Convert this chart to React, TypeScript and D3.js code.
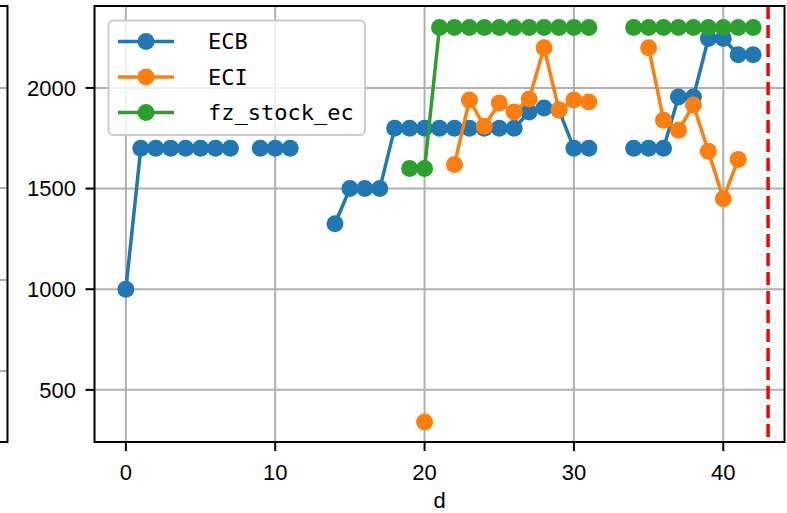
import React from "react";
import * as d3 from "d3";

const days: number[] = d3.range(0, 43);
const ecb: (number | null)[] = [
  1000, 1700, 1700, 1700, 1700, 1700, 1700, 1700, null, 1700,
  1700, 1700, null, null, 1325, 1500, 1500, 1500, 1800, 1800,
  1800, 1800, 1800, 1800, 1800, 1800, 1800, 1880, 1900, 1890,
  1700, 1700, null, null, 1700, 1700, 1700, 1955, 1955, 2245,
  2245, 2165, 2165,
];
const eci: (number | null)[] = [
  null, null, null, null, null, null, null, null, null, null,
  null, null, null, null, null, null, null, null, null, null,
  340, null, 1620, 1940, 1810, 1925, 1880, 1945, 2200, 1890,
  1940, 1930, null, null, null, 2200, 1840, 1790, 1915, 1685,
  1450, 1645, null,
];
const fz: (number | null)[] = [
  null, null, null, null, null, null, null, null, null, null,
  null, null, null, null, null, null, null, null, null, 1600,
  1600, 2300, 2300, 2300, 2300, 2300, 2300, 2300, 2300, 2300,
  2300, 2300, null, null, 2300, 2300, 2300, 2300, 2300, 2300,
  2300, 2300, 2300,
];
const seriesNames = ["ECB", "ECI", "fz_stock_ec"];
const seriesColors = ["#1f77b4", "#ff7f0e", "#2ca02c"];
const xTicks = [0, 10, 20, 30, 40];
const yTicks = [500, 1000, 1500, 2000];
const cutoffDay = 43;
const xLabel = "d";

const W = 787;
const H = 513;
const L = 94.5, R = 784.5, T = 6, B = 442;

export default function App() {
  const x = d3.scaleLinear().domain([-2.1, 44.1]).range([L, R]);
  const y = d3.scaleLinear().domain([241, 2407]).range([B, T]);
  const all = [ecb, eci, fz];
  const line = d3
    .line<number | null>()
    .defined((d) => d !== null)
    .x((_, i) => x(days[i]))
    .y((d) => y(d as number));
  const tickFont = "'Liberation Sans', Arial, sans-serif";
  const legFont = "'DejaVu Sans Mono', monospace";
  return (
    <svg
      width={W}
      height={H}
      style={{ position: "absolute", left: 0, top: 0, background: "#fff" }}
    >
      <rect x={0} y={0} width={W} height={H} fill="#fff" />
      {/* partial neighbouring axes at left edge */}
      {[88, 188, 280, 371].map((gy) => (
        <line key={gy} x1={0} x2={7} y1={gy} y2={gy} stroke="#b0b0b0" strokeWidth={2} />
      ))}
      <path d={`M0,${T}H7.5V${B}H0`} fill="none" stroke="#000" strokeWidth={2} />

      <defs>
        <clipPath id="clip">
          <rect x={L} y={T} width={R - L} height={B - T} />
        </clipPath>
      </defs>
      {/* grid */}
      <g clipPath="url(#clip)">
        {xTicks.map((t) => (
          <line key={"gx" + t} x1={x(t)} x2={x(t)} y1={T} y2={B} stroke="#b0b0b0" strokeWidth={2} />
        ))}
        {yTicks.map((t) => (
          <line key={"gy" + t} x1={L} x2={R} y1={y(t)} y2={y(t)} stroke="#b0b0b0" strokeWidth={2} />
        ))}
      </g>
      <g clipPath="url(#clip)">
        {all.map((s, k) => (
          <g key={k}>
            <path d={line(s) || ""} fill="none" stroke={seriesColors[k]} strokeWidth={3.5} />
            {s.map((v, i) =>
              v === null ? null : (
                <circle key={i} cx={x(days[i])} cy={y(v)} r={8.5} fill={seriesColors[k]} />
              )
            )}
          </g>
        ))}
        <line
          x1={x(cutoffDay)}
          x2={x(cutoffDay)}
          y1={T}
          y2={B}
          stroke="#ff0000"
          strokeWidth={3.5}
          strokeDasharray="13,6"
        />
      </g>
      {/* spines */}
      <rect x={L} y={T} width={R - L} height={B - T} fill="none" stroke="#000" strokeWidth={2} />
      {/* x ticks */}
      {xTicks.map((t) => (
        <g key={"xt" + t}>
          <line x1={x(t)} x2={x(t)} y1={B} y2={B + 9} stroke="#000" strokeWidth={2} />
          <text x={x(t)} y={480} textAnchor="middle" fontFamily={tickFont} fontSize={22} fill="#000">
            {t}
          </text>
        </g>
      ))}
      {yTicks.map((t) => (
        <g key={"yt" + t}>
          <line x1={L - 9} x2={L} y1={y(t)} y2={y(t)} stroke="#000" strokeWidth={2} />
          <text
            x={76}
            y={y(t)}
            dy="0.36em"
            textAnchor="end"
            fontFamily={tickFont}
            fontSize={22}
            fill="#000"
          >
            {t}
          </text>
        </g>
      ))}
      <text x={(L + R) / 2} y={508} textAnchor="middle" fontFamily={tickFont} fontSize={22} fill="#000">
        {xLabel}
      </text>
      {/* legend */}
      <rect
        x={108.5}
        y={20.5}
        width={256.5}
        height={114.5}
        rx={5}
        fill="#fff"
        fillOpacity={0.8}
        stroke="#cccccc"
        strokeWidth={2}
      />
      {seriesNames.map((n, k) => {
        const cy = 41.5 + k * 35.5;
        return (
          <g key={n}>
            <line x1={118} x2={174} y1={cy} y2={cy} stroke={seriesColors[k]} strokeWidth={3.5} />
            <circle cx={146} cy={cy} r={8.5} fill={seriesColors[k]} />
            <text x={208} y={cy} dy="0.36em" fontFamily={legFont} fontSize={22} fill="#000">
              {n}
            </text>
          </g>
        );
      })}
    </svg>
  );
}
